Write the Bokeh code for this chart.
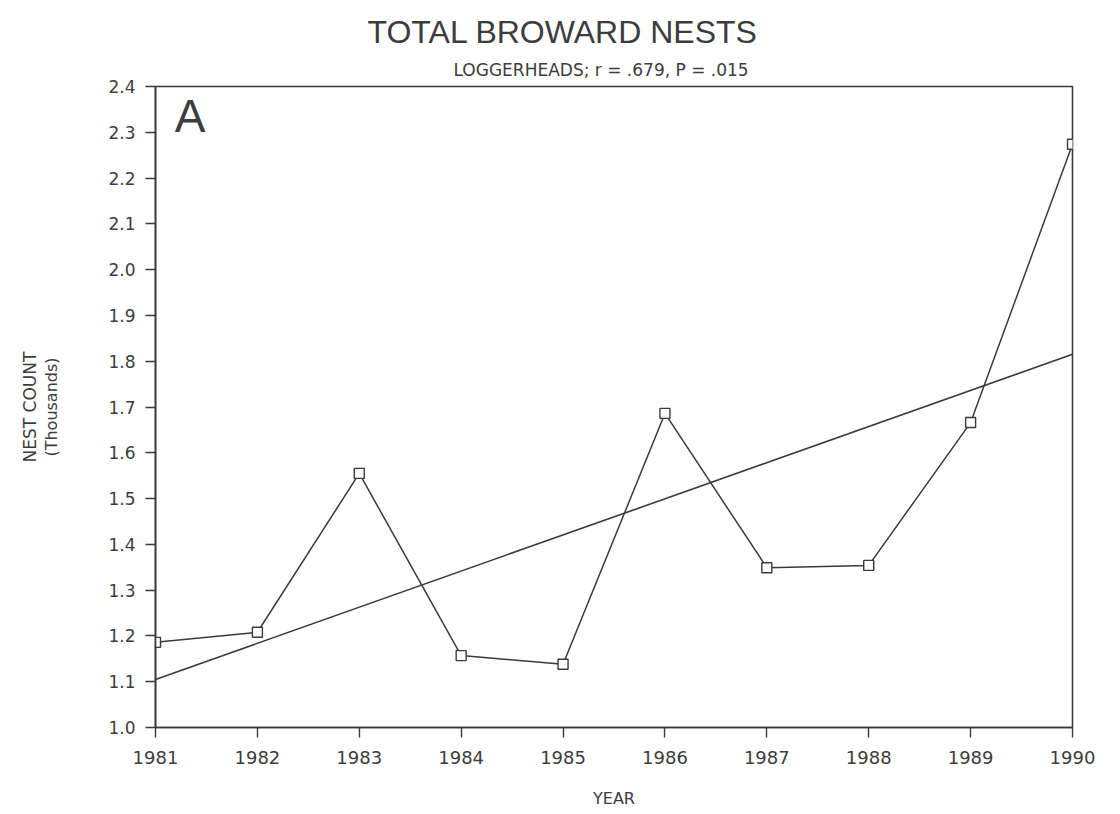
from bokeh.plotting import figure
from bokeh.models import Title, Label, FixedTicker, NumeralTickFormatter, Range1d
from bokeh.embed import file_html
from bokeh.resources import INLINE

# ---- data ----
years = [1981, 1982, 1983, 1984, 1985, 1986, 1987, 1988, 1989, 1990]
nest_thousands = [1.186, 1.208, 1.555, 1.157, 1.138, 1.686, 1.349, 1.354, 1.666, 2.274]
trend_years = [1981, 1990]
trend_values = [1.105, 1.815]
y_ticks = [1.0, 1.1, 1.2, 1.3, 1.4, 1.5, 1.6, 1.7, 1.8, 1.9, 2.0, 2.1, 2.2, 2.3, 2.4]
x_ticks = years

INK = "#3a3a3a"
TXT = "#3c3c3c"

p = figure(width=1110, height=812,
           x_range=Range1d(1981, 1990), y_range=Range1d(1.0, 2.4),
           output_backend="svg", toolbar_location=None,
           min_border_left=155, min_border_right=38,
           min_border_top=86, min_border_bottom=85,
           background_fill_color="white", border_fill_color="white")

# titles: main title outermost, subtitle next to the frame
p.title.text = "TOTAL BROWARD NESTS"
p.title.align = "left"
p.title.offset = 212
p.title.text_font = "Liberation Sans"
p.title.text_font_size = "32px"
p.title.text_font_style = "normal"
p.title.text_color = TXT
p.title.standoff = 4
sub = Title(text="LOGGERHEADS;  r = .679,  P = .015", align="left", offset=298,
            text_font="DejaVu Sans", text_font_size="17px",
            text_font_style="normal", text_color=TXT, standoff=13)
p.add_layout(sub, "above")

# frame
p.outline_line_color = INK
p.outline_line_width = 1.6
p.xgrid.visible = False
p.ygrid.visible = False

for ax in (p.xaxis, p.yaxis):
    ax.axis_line_color = INK
    ax.axis_line_width = 1.6
    ax.major_tick_line_color = INK
    ax.major_tick_line_width = 1.4
    ax.major_tick_in = 0
    ax.major_tick_out = 10
    ax.minor_tick_line_color = None
    ax.major_label_text_font = "DejaVu Sans"
    ax.major_label_text_color = TXT
    ax.axis_label_text_font = "DejaVu Sans"
    ax.axis_label_text_font_size = "16px"
    ax.axis_label_text_font_style = "normal"
    ax.axis_label_text_color = TXT

p.xaxis.major_label_text_font_size = "18px"
p.yaxis.major_label_text_font_size = "17px"

p.xaxis.ticker = FixedTicker(ticks=x_ticks)
p.xaxis.major_label_standoff = 13
p.xaxis.axis_label = "YEAR"
p.xaxis.axis_label_standoff = 22

p.yaxis.ticker = FixedTicker(ticks=y_ticks)
p.yaxis.formatter = NumeralTickFormatter(format="0.0")
p.yaxis.major_label_standoff = 10
p.yaxis.axis_label = "(Thousands)"
p.yaxis.axis_label_standoff = 44

ylab = Title(text="NEST COUNT", align="center", text_font="DejaVu Sans",
             text_font_size="17px", text_font_style="normal", text_color=TXT,
             standoff=0)
p.add_layout(ylab, "left")

# series
p.line(trend_years, trend_values, line_color=INK, line_width=1.6)
p.line(years, nest_thousands, line_color=INK, line_width=1.5)
p.scatter(years, nest_thousands, marker="square", size=10,
          fill_color="white", line_color=INK, line_width=1.4)

p.add_layout(Label(x=1981.19, y=2.392, text="A", text_baseline="top",
                   text_font="Liberation Sans", text_font_size="46px",
                   text_color=TXT))

open("out.html", "w").write(file_html(p, INLINE))
